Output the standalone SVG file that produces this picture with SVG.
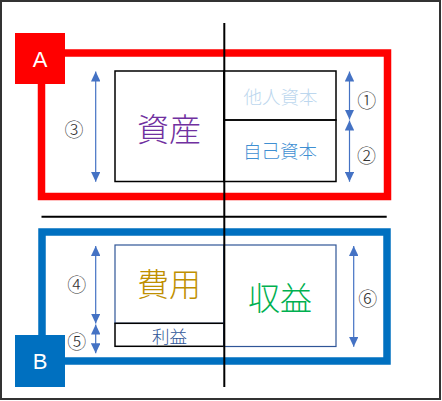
<svg xmlns="http://www.w3.org/2000/svg" width="442" height="401" viewBox="0 0 442 401">
<defs>
<marker id="ah" viewBox="0 0 10 10" refX="10" refY="5" markerWidth="10" markerHeight="9.5" markerUnits="userSpaceOnUse" orient="auto-start-reverse" preserveAspectRatio="none">
<path d="M0,0 L10,5 L0,10 Z" fill="#4472C4"/>
</marker>
<style>
.jp{font-family:"Noto Sans CJK JP","Noto Sans",sans-serif;text-anchor:middle;dominant-baseline:central;font-weight:300}
.num{font-family:"Noto Sans CJK JP",sans-serif;font-size:19px;font-weight:300;fill:#333;text-anchor:middle;dominant-baseline:central}
.lbl{font-family:"Liberation Sans",Arial,sans-serif;font-size:22px;fill:#fff;text-anchor:middle;dominant-baseline:central}
.box{fill:none;stroke:#000;stroke-width:1.5}
.bbox{fill:none;stroke:#2F5597;stroke-width:1.2}
.arr{stroke:#4472C4;stroke-width:1.2;fill:none;marker-start:url(#ah);marker-end:url(#ah)}
</style>
</defs>
<rect x="0" y="0" width="442" height="401" fill="#fff"/>
<rect x="1" y="1" width="439" height="398" fill="none" stroke="#333" stroke-width="2"/>

<g id="frameA">
<rect x="41.5" y="53" width="346" height="143.5" fill="none" stroke="#FF0000" stroke-width="7.5"/>
</g>
<g id="frameB">
<rect x="42" y="232" width="345" height="129" fill="none" stroke="#0070C0" stroke-width="7.5"/>
</g>

<g id="assets">
<rect class="box" x="115" y="71" width="109" height="110.5"/>
<text class="jp" x="169" y="127" font-size="32" fill="#7030A0">資産</text>
</g>
<g id="liabilities">
<rect class="box" x="224" y="71" width="112" height="49"/>
<text class="jp" x="280.5" y="95.5" font-size="18.5" fill="#BDD7EE">他人資本</text>
</g>
<g id="equity">
<rect class="box" x="224" y="120" width="112" height="61.5"/>
<text class="jp" x="280" y="150" font-size="18.5" fill="#3F8FD2">自己資本</text>
</g>

<g id="expenses">
<rect class="bbox" x="115" y="245" width="109" height="78.3"/>
<text class="jp" x="169" y="282" font-size="32" fill="#BF9000">費用</text>
</g>
<g id="profit">
<rect class="box" x="115" y="323.3" width="109" height="23"/>
<text class="jp" x="169.5" y="335" font-size="17.5" fill="#2F5597">利益</text>
</g>
<g id="revenue">
<rect class="bbox" x="224" y="245" width="112" height="101.5"/>
<text class="jp" x="280" y="296" font-size="32" fill="#00B050">収益</text>
</g>

<g id="connectors">
<line x1="224.3" y1="23" x2="224.3" y2="387" stroke="#000" stroke-width="2"/>
<line x1="41.5" y1="216.7" x2="386.7" y2="216.7" stroke="#000" stroke-width="2"/>
<line class="arr" x1="95.7" y1="71.5" x2="95.7" y2="181.7"/>
<line class="arr" x1="349.5" y1="71.5" x2="349.5" y2="119.5"/>
<line class="arr" x1="349.5" y1="120.5" x2="349.5" y2="181.7"/>
<line class="arr" x1="95.7" y1="246" x2="95.7" y2="323.5"/>
<line class="arr" x1="95.7" y1="324.5" x2="95.7" y2="353.3"/>
<line class="arr" x1="353.7" y1="246" x2="353.7" y2="346.7"/>
</g>

<g id="labels">
<text class="num" x="74" y="128">③</text>
<text class="num" x="366.7" y="99">①</text>
<text class="num" x="366.5" y="154">②</text>
<text class="num" x="76.7" y="283.5">④</text>
<text class="num" x="76.7" y="340">⑤</text>
<text class="num" x="367.7" y="297">⑥</text>
</g>

<g id="badgeA">
<rect x="15" y="33" width="50" height="51" fill="#FF0000"/>
<text class="lbl" x="40" y="59.5">A</text>
</g>
<g id="badgeB">
<rect x="15" y="335" width="50" height="52" fill="#0070C0"/>
<text class="lbl" x="40" y="361">B</text>
</g>
</svg>
